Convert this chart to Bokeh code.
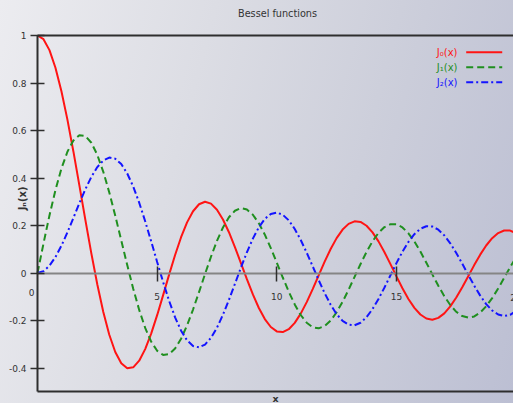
import math
from bokeh.plotting import figure
from bokeh.models import (ColumnDataSource, FixedTicker, LinearAxis, Range1d,
                          Label, LabelSet)
from bokeh.core.properties import value
from bokeh.embed import file_html
from bokeh.resources import INLINE

# ---------------- data ----------------
x_vals = [0.0, 0.25, 0.5, 0.75, 1.0, 1.25, 1.5, 1.75, 2.0, 2.25, 2.5, 2.75,
          3.0, 3.25, 3.5, 3.75, 4.0, 4.25, 4.5, 4.75, 5.0, 5.25, 5.5, 5.75,
          6.0, 6.25, 6.5, 6.75, 7.0, 7.25, 7.5, 7.75, 8.0, 8.25, 8.5, 8.75,
          9.0, 9.25, 9.5, 9.75, 10.0, 10.25, 10.5, 10.75, 11.0, 11.25, 11.5,
          11.75, 12.0, 12.25, 12.5, 12.75, 13.0, 13.25, 13.5, 13.75, 14.0,
          14.25, 14.5, 14.75, 15.0, 15.25, 15.5, 15.75, 16.0, 16.25, 16.5,
          16.75, 17.0, 17.25, 17.5, 17.75, 18.0, 18.25, 18.5, 18.75, 19.0,
          19.25, 19.5, 19.75, 20.0]

j0_vals = [1.0000, 0.9844, 0.9385, 0.8642, 0.7652, 0.6459, 0.5118, 0.3690,
           0.2239, 0.0827, -0.0484, -0.1641, -0.2601, -0.3327, -0.3801, -0.4014,
           -0.3971, -0.3692, -0.3205, -0.2551, -0.1776, -0.0931, -0.0068, 0.0760,
           0.1506, 0.2131, 0.2601, 0.2894, 0.3001, 0.2920, 0.2663, 0.2252,
           0.1717, 0.1092, 0.0419, -0.0259, -0.0903, -0.1474, -0.1939, -0.2273,
           -0.2459, -0.2489, -0.2366, -0.2100, -0.1712, -0.1226, -0.0677, -0.0097,
           0.0477, 0.1009, 0.1469, 0.1828, 0.2069, 0.2177, 0.2150, 0.1990,
           0.1711, 0.1331, 0.0875, 0.0374, -0.0142, -0.0641, -0.1092, -0.1468,
           -0.1749, -0.1917, -0.1965, -0.1890, -0.1699, -0.1406, -0.1031, -0.0598,
           -0.0134, 0.0332, 0.0773, 0.1158, 0.1466, 0.1680, 0.1789, 0.1785,
           0.1670]

j1_vals = [0.0000, 0.1240, 0.2423, 0.3492, 0.4401, 0.5106, 0.5579, 0.5802,
           0.5767, 0.5484, 0.4971, 0.4260, 0.3391, 0.2411, 0.1374, 0.0332,
           -0.0660, -0.1555, -0.2311, -0.2891, -0.3276, -0.3450, -0.3414, -0.3179,
           -0.2767, -0.2207, -0.1538, -0.0803, -0.0047, 0.0686, 0.1352, 0.1916,
           0.2346, 0.2622, 0.2731, 0.2672, 0.2453, 0.2091, 0.1613, 0.1048,
           0.0435, -0.0190, -0.0788, -0.1324, -0.1768, -0.2093, -0.2283, -0.2330,
           -0.2234, -0.2003, -0.1654, -0.1211, -0.0703, -0.0161, 0.0380, 0.0888,
           0.1334, 0.1689, 0.1933, 0.2055, 0.2051, 0.1919, 0.1671, 0.1325,
           0.0904, 0.0433, -0.0058, -0.0538, -0.0977, -0.1349, -0.1634, -0.1814,
           -0.1880, -0.1829, -0.1666, -0.1402, -0.1057, -0.0650, -0.0209, 0.0240,
           0.0668]

j2_vals = [0.0000, 0.0078, 0.0306, 0.0671, 0.1149, 0.1711, 0.2321, 0.2940,
           0.3528, 0.4047, 0.4461, 0.4739, 0.4861, 0.4811, 0.4586, 0.4191,
           0.3641, 0.2960, 0.2178, 0.1333, 0.0466, -0.0383, -0.1173, -0.1865,
           -0.2429, -0.2837, -0.3074, -0.3132, -0.3014, -0.2730, -0.2303, -0.1758,
           -0.1130, -0.0456, 0.0223, 0.0870, 0.1448, 0.1926, 0.2279, 0.2488,
           0.2546, 0.2452, 0.2217, 0.1854, 0.1391, 0.0854, 0.0281, -0.0300,
           -0.0849, -0.1336, -0.1735, -0.2018, -0.2177, -0.2202, -0.2095, -0.1861,
           -0.1520, -0.1094, -0.0610, -0.0095, 0.0416, 0.0893, 0.1308, 0.1636,
           0.1862, 0.1970, 0.1958, 0.1825, 0.1584, 0.1249, 0.0844, 0.0393,
           -0.0075, -0.0533, -0.0953, -0.1308, -0.1578, -0.1748, -0.1810, -0.1760,
           -0.1603]

series_names = ["J\u2080(x)", "J\u2081(x)", "J\u2082(x)"]
series_colors = ["#ff1414", "#1f8f1f", "#1414ff"]
series_dashes = ["solid", "7 4", "7 3 2 3"]

x_ticks = [0, 5, 10, 15, 20]
x_tick_labels = ["0", "5", "10", "15", "20"]
y_ticks = [-0.4, -0.2, 0, 0.2, 0.4, 0.6, 0.8, 1]
y_tick_labels = ["-0.4", "-0.2", "0", "0.2", "0.4", "0.6", "0.8", "1"]

title_text = "Bessel functions"
x_label = "x"
y_label = "J\u2099(x)"

# ---------------- layout / style constants ----------------
W, H = 513, 403
FX0, FY0 = 37, 35          # pixel position of (x=0, y=1)
PPX, PPY = 23.93, 237.5    # pixels per data unit
X_END = (W - FX0) / PPX
Y_BOT = -0.5
FONT = "DejaVu Sans"
TXT = "#333333"
AX = "#2e2e2e"
BG = ("linear-gradient(105deg, #ececf0 0%, #dcdde4 35%, #cdcfdb 65%, "
      "#bcbfd3 100%)")

p = figure(width=W, height=H, title=None,
           x_range=Range1d(-FX0 / PPX, X_END),
           y_range=Range1d(1 - (H - FY0) / PPY, 1 + FY0 / PPY),
           output_backend="svg", toolbar_location=None,
           x_axis_location=None, y_axis_location=None,
           min_border=0, min_border_left=0, min_border_right=0,
           min_border_top=0, min_border_bottom=0)
p.grid.visible = False
p.background_fill_alpha = 0
p.border_fill_alpha = 0
p.outline_line_alpha = 0

try:
    from bokeh.models import GlobalInlineStyleSheet
    p.stylesheets = [GlobalInlineStyleSheet(
        css="html{min-height:100%;background:" + BG + ";}")]
except Exception:
    p.styles = {"background": BG}


def bare_axis(loc, at, bounds):
    ax = LinearAxis(fixed_location=at, bounds=bounds,
                    ticker=FixedTicker(ticks=[], minor_ticks=[]))
    ax.axis_line_color = AX
    ax.axis_line_width = 2
    ax.major_tick_in = 0
    ax.major_tick_out = 0
    ax.major_tick_line_color = None
    ax.minor_tick_line_color = None
    ax.major_label_text_font_size = "0px"
    ax.major_label_standoff = 0
    p.add_layout(ax, loc)
    return ax


# frame lines top and bottom
bare_axis("above", 1.0, (0, X_END))
bottom = bare_axis("below", Y_BOT, (0, X_END))
bottom.axis_label = x_label
bottom.axis_label_standoff = 1
bottom.axis_label_text_font = FONT
bottom.axis_label_text_font_size = "9.5px"
bottom.axis_label_text_font_style = "bold"
bottom.axis_label_text_color = TXT

# y axis at x = 0
yax = LinearAxis(fixed_location=0, bounds=(Y_BOT, 1.0),
                 ticker=FixedTicker(ticks=y_ticks, minor_ticks=[]),
                 major_label_overrides=dict(zip(y_ticks, y_tick_labels)))
yax.axis_line_color = AX
yax.axis_line_width = 2
yax.major_tick_in = 7
yax.major_tick_out = 7
yax.major_tick_line_color = AX
yax.major_tick_line_width = 1.5
yax.minor_tick_line_color = None
yax.major_label_standoff = 4
yax.major_label_text_font = FONT
yax.major_label_text_font_size = "9px"
yax.major_label_text_color = TXT
p.add_layout(yax, "left")

# x axis at y = 0
xax = LinearAxis(fixed_location=0, bounds=(0, X_END),
                 ticker=FixedTicker(ticks=x_ticks[1:], minor_ticks=[]),
                 major_label_overrides=dict(zip(x_ticks, x_tick_labels)))
xax.axis_line_color = "#858585"
xax.axis_line_width = 2
xax.major_tick_in = 7
xax.major_tick_out = 8
xax.major_tick_line_color = AX
xax.major_tick_line_width = 1.5
xax.minor_tick_line_color = None
xax.major_label_standoff = 12
xax.major_label_text_font = FONT
xax.major_label_text_font_size = "9px"
xax.major_label_text_color = TXT
p.add_layout(xax, "below")

# the origin label and the (cut) label at the right edge
p.add_layout(Label(x=-0.25, y=-0.08, text=x_tick_labels[0],
                   text_align="center", text_baseline="middle",
                   text_font=FONT, text_font_size="9px", text_color=TXT))
p.add_layout(Label(x=x_ticks[-1], y=-0.105, text=x_tick_labels[-1],
                   text_align="center", text_baseline="middle",
                   text_font=FONT, text_font_size="9px", text_color=TXT))

# title and y label
p.add_layout(Label(x=10.03, y=1.093, text=title_text, text_align="center",
                   text_baseline="alphabetic", text_font=FONT,
                   text_font_size="9.7px", text_color=TXT))
p.add_layout(Label(x=-0.61, y=0.314, text=y_label, angle=math.pi / 2,
                   text_align="center", text_baseline="middle",
                   text_font=FONT, text_font_size="10px",
                   text_font_style="bold", text_color=TXT))

# curves
src = ColumnDataSource(dict(x=x_vals, j0=j0_vals, j1=j1_vals, j2=j2_vals))
for col, c, d in zip(["j0", "j1", "j2"], series_colors, series_dashes):
    p.line("x", col, source=src, line_color=c, line_width=2, line_dash=d)

# legend: label on the left, sample line on the right
leg_rows = [0.9297, 0.8665, 0.8034]
leg_src = ColumnDataSource(dict(y=leg_rows, text=series_names,
                                color=series_colors))
p.add_layout(LabelSet(x=17.55, y="y", text="text", source=leg_src,
                      text_align="right", text_baseline="middle",
                      text_color="color", text_font=value(FONT),
                      text_font_size=value("10px")))
for yy, c, d in zip(leg_rows, series_colors, series_dashes):
    p.line([17.915, 19.42], [yy, yy], line_color=c, line_width=2,
           line_dash=d)

open("out.html", "w").write(file_html(p, INLINE))
